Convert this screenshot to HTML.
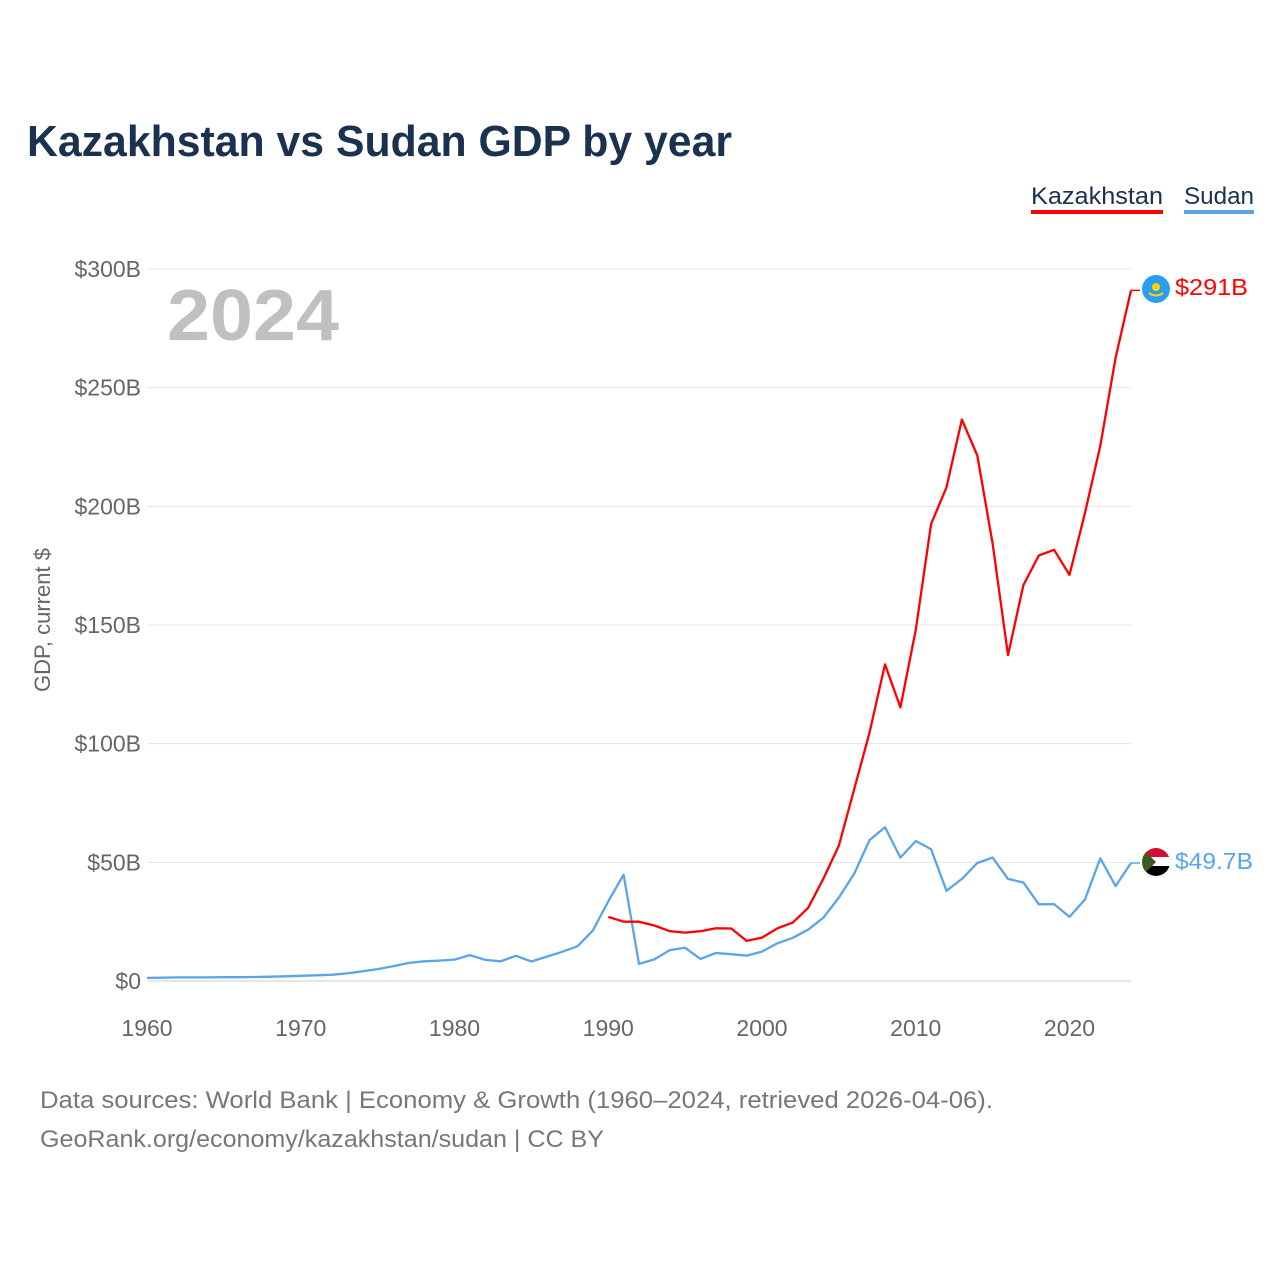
<!DOCTYPE html>
<html><head><meta charset="utf-8"><style>
body{margin:0;background:#fff;font-family:"Liberation Sans",sans-serif;}
#wrap{position:relative;width:1280px;height:1280px;overflow:hidden}
</style></head><body><div id="wrap">
<svg id="svg" width="1280" height="1280" xmlns="http://www.w3.org/2000/svg">
<text x="27" y="156" font-size="44" font-weight="bold" fill="#1a3150" textLength="705" lengthAdjust="spacingAndGlyphs">Kazakhstan vs Sudan GDP by year</text>
<g><text x="1031" y="204" font-size="24" fill="#1a3150" textLength="132" lengthAdjust="spacingAndGlyphs">Kazakhstan</text><rect x="1031" y="210" width="132" height="4" fill="#ff0000"/></g>
<g><text x="1184" y="204" font-size="24" fill="#1a3150" textLength="70" lengthAdjust="spacingAndGlyphs">Sudan</text><rect x="1184" y="210" width="70" height="4" fill="#5aa5e8"/></g>
<text x="167" y="340" font-size="72" font-weight="bold" fill="#c0c0c0" textLength="172" lengthAdjust="spacingAndGlyphs">2024</text>
<text transform="translate(50,620) rotate(-90)" text-anchor="middle" font-size="22" fill="#666">GDP, current $</text>
<g id="grid"></g><g id="ylab"></g><g id="xlab"></g><g id="series"></g>
<g><circle cx="1156" cy="289" r="14" fill="#2a9ff0"/><circle cx="1156" cy="287" r="4" fill="#ffd200"/><path d="M1149 293 Q1156 298 1163 293" stroke="#ffd200" stroke-width="2" fill="none"/></g>
<g><clipPath id="cp"><circle cx="1156" cy="862" r="14"/></clipPath><g clip-path="url(#cp)"><rect x="1142" y="848" width="28" height="10" fill="#d21034"/><rect x="1142" y="857" width="28" height="10" fill="#fff"/><rect x="1142" y="866" width="28" height="10" fill="#000"/><path d="M1142 848 L1156 862 L1142 876Z" fill="#3c5a1e"/></g></g>
<text x="1175" y="295" font-size="23" fill="#ff0000" textLength="73" lengthAdjust="spacingAndGlyphs">$291B</text>
<text x="1175" y="869" font-size="23" fill="#5aa5e8" textLength="78" lengthAdjust="spacingAndGlyphs">$49.7B</text>
<text x="40" y="1108" font-size="24" fill="#777" textLength="953" lengthAdjust="spacingAndGlyphs">Data sources: World Bank | Economy &amp; Growth (1960–2024, retrieved 2026-04-06).</text>
<text x="40" y="1147" font-size="24" fill="#777" textLength="564" lengthAdjust="spacingAndGlyphs">GeoRank.org/economy/kazakhstan/sudan | CC BY</text>
</svg></div>
<script>
const yTicks=[0,50,100,150,200,250,300];
const yTickLabels=["$0","$50B","$100B","$150B","$200B","$250B","$300B"];
const xTicks=[1960,1970,1980,1990,2000,2010,2020];
const kazStart=1990;
const kazValues=[27,25,25,23.4,21,20.4,21,22.2,22.1,16.9,18.3,22.2,24.6,30.8,43.2,57.1,81,104.8,133.4,115.3,148,192.6,208,236.6,221.4,184.4,137.3,166.8,179.3,181.7,171.1,197.1,225.5,262.6,291];
const sudStart=1960;
const sudValues=[1.3,1.4,1.5,1.5,1.5,1.6,1.6,1.7,1.8,2.0,2.2,2.4,2.6,3.2,4.1,5.0,6.2,7.6,8.3,8.6,9.0,10.9,8.9,8.3,10.6,8.2,10.3,12.3,14.6,21.3,33.6,44.8,7.2,9.1,13,14,9.3,11.8,11.3,10.7,12.4,15.9,18.2,21.6,26.7,35.2,45.3,59.4,64.8,52,59,55.5,38,43,49.7,52,43,41.5,32.3,32.4,27,34.3,51.7,40,49.7];
const NS="http://www.w3.org/2000/svg";
const X=yr=>147+(yr-1960)*(1131-147)/64;
const Y=v=>981-v*(981-269)/300;
function mk(t,a,p){const e=document.createElementNS(NS,t);for(const k in a)e.setAttribute(k,a[k]);p.appendChild(e);return e;}
const grid=document.getElementById('grid'),ylab=document.getElementById('ylab'),xlab=document.getElementById('xlab'),ser=document.getElementById('series');
yTicks.forEach((v,i)=>{
 const l=mk('line',{x1:147,x2:1131,y1:Y(v),y2:Y(v),stroke:v===0?'#ccc':'#e6e6e6','stroke-width':1},grid);
 
 
 const t=mk('text',{x:141,y:Y(v)+8,'text-anchor':'end','font-size':23,fill:'#666'},ylab);
 t.textContent=yTickLabels[i];
 
 
});
xTicks.forEach(yr=>{
 const t=mk('text',{x:X(yr),y:1036,'text-anchor':'middle','font-size':23,fill:'#666'},xlab);
 t.textContent=yr;
 
 
});
function line(start,vals,color,name){
 const d=vals.map((v,i)=>(i?'L':'M')+X(start+i).toFixed(1)+' '+Y(v).toFixed(1)).join(' ');
 const p=mk('path',{d:d,fill:'none',stroke:color,'stroke-width':2.3,'stroke-linejoin':'round'},ser);
 
 
 const last=vals[vals.length-1];
 mk('line',{x1:X(start+vals.length-1),x2:1140,y1:Y(last),y2:Y(last),stroke:color,'stroke-width':1.5},ser);
}
line(sudStart,sudValues,'#5aa5e8','sudan-line');
line(kazStart,kazValues,'#ff0000','kazakhstan-line');
</script></body></html>
